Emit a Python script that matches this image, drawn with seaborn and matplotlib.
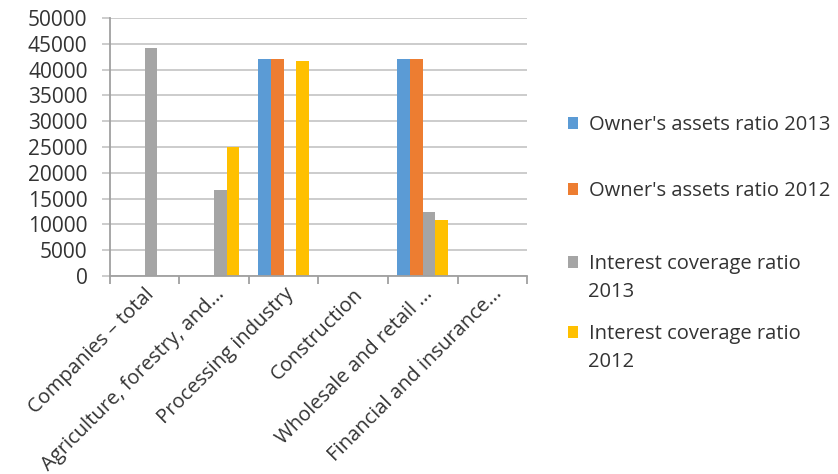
import numpy as np
import pandas as pd
import seaborn as sns
import matplotlib.pyplot as plt

# Categories and series
categories = ["Companies \u2013 total", "Agriculture, forestry, and...", "Processing industry",
              "Construction", "Wholesale and retail ...", "Financial and insurance..."]
series = ["Owner's assets ratio 2013", "Owner's assets ratio 2012",
          "Interest coverage ratio 2013", "Interest coverage ratio 2012"]
owners_2013 = [np.nan, np.nan, 42000, np.nan, 42100, np.nan]
owners_2012 = [np.nan, np.nan, 42000, np.nan, 42000, np.nan]
interest_2013 = [44200, 16700, np.nan, np.nan, 12400, np.nan]
interest_2012 = [np.nan, 25000, 41600, np.nan, 10900, np.nan]
legend_labels = ["Owner's assets ratio 2013", "Owner's assets ratio 2012",
                 "Interest coverage ratio\n2013", "Interest coverage ratio\n2012"]
colors = ["#5B9BD5", "#ED7D31", "#A5A5A5", "#FFC000"]

rows = []
for name, vals in zip(series, [owners_2013, owners_2012, interest_2013, interest_2012]):
    for cat, v in zip(categories, vals):
        rows.append({"category": cat, "series": name, "value": v})
df = pd.DataFrame(rows).dropna()

sns.set_style("white")
plt.rcParams["font.family"] = ["Open Sans", "DejaVu Sans"]
text_col = "#333333"

fig = plt.figure(figsize=(8.38, 4.74), dpi=100)
ax = fig.add_axes([0.131, 0.418, 0.498, 0.544])

sns.barplot(data=df, x="category", y="value", hue="series",
            order=categories, hue_order=series, palette=colors,
            width=4 / 5.5, saturation=1, errorbar=None, linewidth=0, ax=ax)

ax.set_ylim(0, 50000)
ax.set_yticks(range(0, 50001, 5000))
ax.set_xlim(-0.5, len(categories) - 0.5)
ax.yaxis.grid(True, color="#C8C8C8", linewidth=1.3)
ax.set_axisbelow(True)
for s in ["top", "right"]:
    ax.spines[s].set_visible(False)
for s in ["left", "bottom"]:
    ax.spines[s].set_color("#A0A0A0")
    ax.spines[s].set_linewidth(1.3)
ax.set_xlabel("")
ax.set_ylabel("")

ax.tick_params(axis="y", length=6, color="#C8C8C8", width=1.3, labelsize=15,
               pad=10, labelcolor=text_col, left=True)
ax.set_xticks(np.arange(-0.5, len(categories)), minor=True)
ax.tick_params(axis="x", which="minor", length=6, color="#A0A0A0", width=1.3, bottom=True)
ax.tick_params(axis="x", which="major", length=0, pad=6)
ax.set_xticks(range(len(categories)))
ax.set_xticklabels(categories, rotation=45, ha="right", rotation_mode="anchor",
                   fontsize=14.5, color=text_col)

# Excel-style legend: one entry per block, marker beside the first line
handles, _ = ax.get_legend_handles_labels()
ax.get_legend().remove()
first_line_y = [125, 191, 264, 334]
for h, lab, ypx in zip(handles, legend_labels, first_line_y):
    lines = lab.split("\n")
    leg = fig.legend([h], [lines[0]], loc="center left",
                     bbox_to_anchor=(0.678, 1 - ypx / 474), frameon=False,
                     fontsize=14.5, handlelength=0.5, handleheight=0.5,
                     handletextpad=0.55, borderpad=0, borderaxespad=0,
                     labelcolor=text_col)
    if len(lines) > 1:
        fig.text(0.7015, 1 - (ypx + 28) / 474, lines[1], fontsize=14.5,
                 color=text_col, va="center", ha="left")

fig.savefig("out.png", dpi=100)
